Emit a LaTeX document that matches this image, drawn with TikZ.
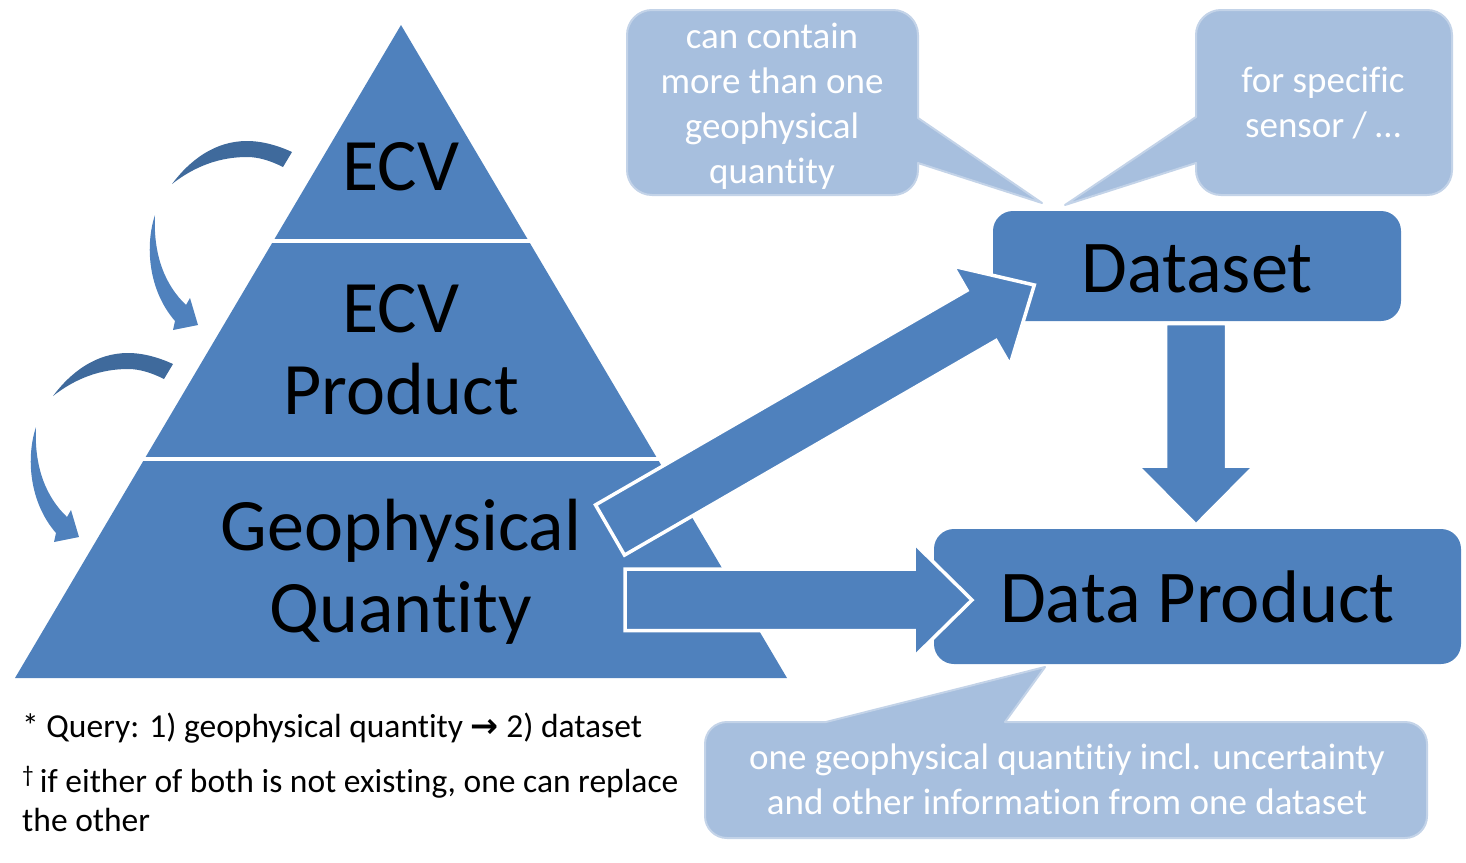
\documentclass[tikz,border=0pt]{standalone}
\usepackage{fontspec}
\setmainfont{Carlito}[Ligatures=NoCommon]
\newfontfamily\arrowfont{DejaVu Sans}
\definecolor{mainblue}{HTML}{4F81BD}
\definecolor{darkblue}{HTML}{3F6A9C}
\definecolor{calloutfill}{HTML}{A7BFDE}
\definecolor{calloutedge}{HTML}{C3D3E8}
\begin{document}
\begin{tikzpicture}[x=1pt,y=-1pt,
  big/.style={font=\fontsize{74}{82}\selectfont, text=black, align=center, inner sep=0pt},
  box/.style={fill=mainblue, rounded corners=20pt, inner sep=0pt, font=\fontsize{74.5}{82}\selectfont, text=black, text height=52pt, text depth=0pt},
  callout/.style={fill=calloutfill, draw=calloutedge, line width=2pt, line join=round},
  ctext/.style={text=white, font=\fontsize{37}{45}\selectfont, align=center, inner sep=0pt},
  blockarrow/.style={fill=mainblue, draw=white, line width=3.5pt, line join=miter},
  tier/.style={draw=white, line width=4pt},
  note/.style={font=\fontsize{33.5}{39}\selectfont, align=left, inner sep=0pt, anchor=base west},
  bendback/.style={fill=darkblue},
  bendfront/.style={fill=mainblue}]
\useasboundingbox (0,0) rectangle (1466,862);

% pyramid
\fill[mainblue] (401,25) -- (787,678) -- (15,678) -- cycle;
\draw[tier] (265,241) -- (537,241);
\draw[tier] (136,459) -- (666,459);
\node[big, anchor=base] (ecv) at (401,190) {ECV};
\node[big] (ecvp) at (401,350) {ECV\\Product};
\node[big] (geo) at (401,571.5) {Geophysical\\Quantity};

% curved arrows
\foreach \dx/\dy in {0/0, -119/212} {
  \begin{scope}[shift={(\dx,\dy)}]
    \path[bendback] (172,184) .. controls (190,160) and (215,141) .. (247,141)
      .. controls (263,141) and (279,146) .. (292,152) -- (283,167)
      .. controls (271,161) and (259,157) .. (247,157)
      .. controls (220,157) and (195,166) .. (172,184) -- cycle;
    \path[bendfront] (155,215) .. controls (145,245) and (148,290) .. (175,321)
      -- (173,330) -- (198,325) -- (190,298) -- (186,305)
      .. controls (165,285) and (153,255) .. (155,215) -- cycle;
  \end{scope}
}

% callouts
\draw[callout] (627,35) arc[start angle=180,end angle=270,radius=25] -- (893,10)
  arc[start angle=270,end angle=360,radius=25] -- (918,118) -- (1042,203) -- (918,163) -- (918,170)
  arc[start angle=0,end angle=90,radius=25] -- (652,195)
  arc[start angle=90,end angle=180,radius=25] -- cycle;
\node[ctext] (c1) at (772,106) {can contain\\more than one\\geophysical\\quantity};

\draw[callout] (1196,35) arc[start angle=180,end angle=270,radius=25] -- (1427,10)
  arc[start angle=270,end angle=360,radius=25] -- (1452,170)
  arc[start angle=0,end angle=90,radius=25] -- (1221,195)
  arc[start angle=90,end angle=180,radius=25] -- (1196,163) -- (1065,205) -- (1196,117) -- cycle;
\node[ctext] (c2) at (1323,103) {for specific\\sensor / …};

\draw[callout] (705,744) arc[start angle=180,end angle=270,radius=22] -- (826,722) -- (1045,667) -- (1005,722) -- (1405,722)
  arc[start angle=270,end angle=360,radius=22] -- (1427,816)
  arc[start angle=0,end angle=90,radius=22] -- (727,838)
  arc[start angle=90,end angle=180,radius=22] -- cycle;
\node[ctext] (c3) at (1067,779) {one geophysical quantitiy incl. uncertainty\\and other information from one dataset};

% boxes
\node[box, minimum width=408pt, minimum height=110pt] (ds) at (1197,266) {Dataset};
\node[box, minimum width=527pt, minimum height=135pt] (dp) at (1197.5,596.5) {Data Product};

% block arrows
\draw[blockarrow] (595.5,504.9) -- (967,290.4) -- (953,266.1) -- (1034.3,285) -- (1010,364.9) -- (996,340.6) -- (624.5,555.1) -- cycle;
\draw[blockarrow] (625,569) -- (914,569) -- (914,543) -- (972,600) -- (914,657) -- (914,630.5) -- (625,630.5) -- cycle;
\draw[blockarrow] (1165.5,323.5) -- (1226.5,323.5) -- (1226.5,466) -- (1254.5,466) -- (1196,525) -- (1137.5,466) -- (1165.5,466) -- cycle;

% notes
\node[note] (n1) at (22,737) {* Query: 1) geophysical quantity {\arrowfont\bfseries →} 2) dataset};
\node[note] (n2) at (22,831) {\textsuperscript{†}\,if either of both is not existing, one can replace\\the other};
\end{tikzpicture}
\end{document}
